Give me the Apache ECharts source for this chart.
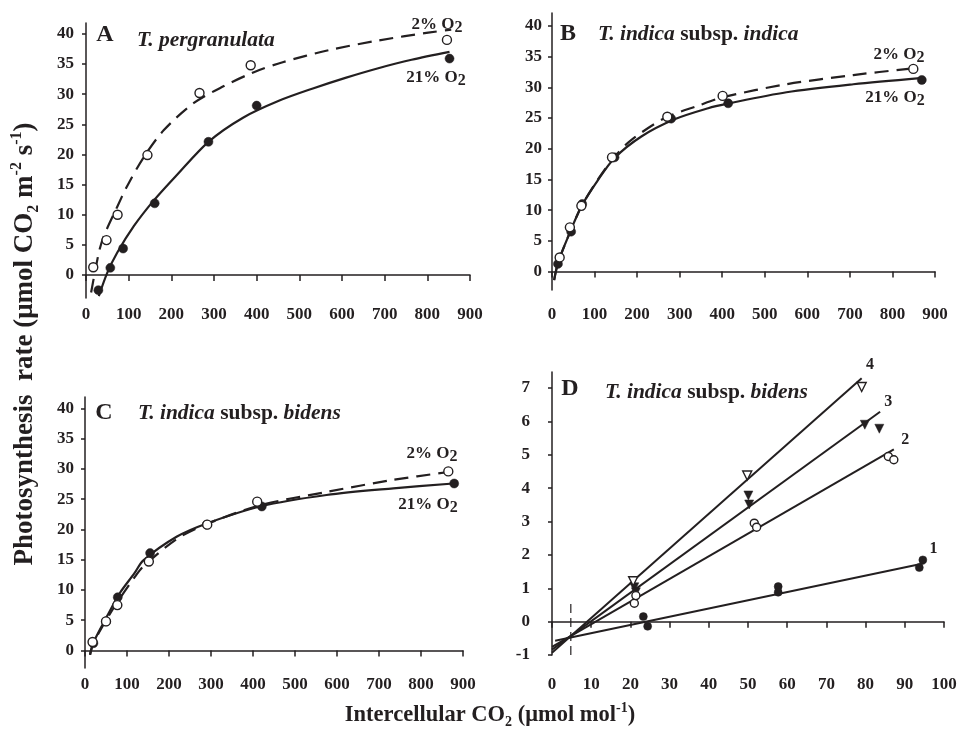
<!DOCTYPE html>
<html><head><meta charset="utf-8">
<script src="https://cdn.jsdelivr.net/npm/echarts@6/dist/echarts.min.js"></script>
<style>html,body{margin:0;padding:0;background:#fff}#c{width:960px;height:729px}</style>
</head><body><div id="c"></div>
<script>
// ---------- Panel A: T. pergranulata ----------
const A_pts21_x = [29, 57, 87, 161, 287, 400, 852];
const A_pts21_y = [-2.5, 1.2, 4.4, 11.9, 22.1, 28.1, 35.9];
const A_pts2_x  = [17, 48, 74, 144, 266, 386, 846];
const A_pts2_y  = [1.3, 5.8, 10.0, 19.9, 30.2, 34.8, 39.0];
const A_fit21_x = [30, 50, 73, 112, 158, 213, 287, 368, 452, 530, 608, 685, 763, 852];
const A_fit21_y = [-3.5, 0.4, 3.7, 8.1, 12.3, 16.6, 22.1, 26.1, 28.9, 30.9, 32.7, 34.3, 35.7, 37.0];
const A_fit2_x  = [12, 30, 42, 73, 96, 135, 182, 252, 322, 392, 461, 569, 685, 802, 856];
const A_fit2_y  = [-2.9, 3.7, 6.5, 11.3, 14.7, 19.5, 24.0, 28.5, 31.3, 33.6, 35.3, 37.3, 38.9, 40.2, 40.7];
// ---------- Panel B: T. indica subsp. indica ----------
const B_pts21_x = [14, 45, 71, 147, 280, 414, 869];
const B_pts21_y = [1.25, 6.5, 11.0, 18.6, 24.9, 27.4, 31.2];
const B_pts2_x  = [18, 42, 69, 141, 271, 401, 849];
const B_pts2_y  = [2.3, 7.2, 10.7, 18.6, 25.2, 28.6, 33.0];
const B_fit21_x = [5, 14, 38, 69, 108, 147, 210, 288, 367, 410, 551, 708, 865];
const B_fit21_y = [-1.4, 1.4, 5.7, 10.6, 14.9, 18.5, 22.0, 24.8, 26.6, 27.3, 29.2, 30.5, 31.5];
const B_fit2_x  = [5, 14, 38, 69, 108, 147, 186, 265, 343, 403, 551, 708, 849];
const B_fit2_y  = [-1.4, 1.4, 5.7, 10.6, 15.0, 18.7, 21.4, 25.0, 27.0, 28.4, 30.5, 32.0, 33.1];
// ---------- Panel C: T. indica subsp. bidens ----------
const C_pts21_x = [20, 50, 78, 155, 290, 421, 879];
const C_pts21_y = [1.2, 4.8, 8.8, 16.1, 20.8, 23.8, 27.6];
const C_pts2_x  = [18, 50, 77, 152, 291, 410, 865];
const C_pts2_y  = [1.4, 4.8, 7.5, 14.7, 20.8, 24.6, 29.6];
const C_fit21_x = [12, 20, 52, 83, 117, 139, 218, 290, 417, 575, 734, 877];
const C_fit21_y = [-0.7, 1.3, 5.6, 9.5, 12.7, 14.9, 18.8, 21.0, 23.8, 25.7, 26.8, 27.6];
const C_fit2_x  = [12, 20, 52, 83, 117, 139, 218, 290, 417, 575, 734, 865];
const C_fit2_y  = [-0.7, 1.2, 5.2, 8.6, 12.0, 13.9, 18.4, 20.9, 24.0, 26.2, 28.2, 29.5];
// ---------- Panel D: T. indica subsp. bidens (initial slopes) ----------
const D_s1_x = [23.3, 24.4, 57.7, 57.7, 94.6, 93.7];
const D_s1_y = [0.15, -0.14, 1.05, 0.88, 1.85, 1.62];
const D_s2_x = [21.0, 21.4, 51.6, 52.2, 85.8, 87.2];
const D_s2_y = [0.55, 0.78, 2.95, 2.83, 4.95, 4.85];
const D_s3_x = [21.0, 21.4, 50.1, 50.3, 79.8, 83.5];
const D_s3_y = [1.03, 0.88, 3.78, 3.51, 5.90, 5.78];
const D_s4_x = [20.7, 49.8, 79.0];
const D_s4_y = [1.21, 4.38, 7.03];
const D_l1_x = [0.8, 95];   const D_l1_y = [-0.57, 1.75];
const D_l2_x = [0, 87.2];   const D_l2_y = [-0.76, 5.16];
const D_l3_x = [0, 83.7];   const D_l3_y = [-0.84, 6.29];
const D_l4_x = [0, 79.0];   const D_l4_y = [-0.93, 7.29];
const D_vline_x = [4.8, 4.8]; const D_vline_y = [-1, 0.65];
const D_lab_txt = ['1', '2', '3', '4'];
const D_lab_x = [97.3, 90.1, 85.8, 81.1];
const D_lab_y = [2.18, 5.46, 6.58, 7.68];
// ---------- tick labels ----------
const ticksCurveX = [0, 100, 200, 300, 400, 500, 600, 700, 800, 900];
const ticksCurveY = [0, 5, 10, 15, 20, 25, 30, 35, 40];
const ticksDX = [0, 10, 20, 30, 40, 50, 60, 70, 80, 90, 100];
const ticksDY = [-1, 0, 1, 2, 3, 4, 5, 6, 7];

const FONT = '"Liberation Serif", "Times New Roman", serif';
const INK = '#231f20';
const zip = (xs, ys) => xs.map((x, i) => [x, ys[i]]);

const chart = echarts.init(document.getElementById('c'), null, {renderer: 'canvas'});

const grids = [
  {left: 86, top: 23, width: 384, height: 275},
  {left: 552, top: 13, width: 383, height: 277},
  {left: 85, top: 397, width: 378, height: 271},
  {left: 552, top: 372, width: 392, height: 283}
];
const lbl = {color: INK, fontFamily: FONT, fontWeight: 'bold', fontSize: 17};
function xAx(gi, ticks, margin) {
  return {type: 'value', gridIndex: gi, min: ticks[0], max: ticks[ticks.length - 1],
    axisLine: {onZero: true, lineStyle: {color: INK, width: 1.5}},
    axisTick: {length: 6, customValues: ticks, lineStyle: {color: INK, width: 1.5}},
    axisLabel: Object.assign({margin, customValues: ticks}, lbl),
    splitLine: {show: false}};
}
function yAx(gi, min, max, ticks, margin) {
  return {type: 'value', gridIndex: gi, min, max,
    axisLine: {show: true, onZero: false, lineStyle: {color: INK, width: 1.5}},
    axisTick: {show: true, length: 4, customValues: ticks, lineStyle: {color: INK, width: 1.5}},
    axisLabel: Object.assign({margin, customValues: ticks}, lbl),
    splitLine: {show: false}};
}
function curve(gi, xs, ys, dashed) {
  return {type: 'line', xAxisIndex: gi, yAxisIndex: gi, data: zip(xs, ys), showSymbol: false,
    smooth: 0.3, silent: true, z: 2,
    lineStyle: {color: INK, width: 2.2, type: dashed ? [14, 8] : 'solid'}};
}
function straight(gi, xs, ys, dashed, w) {
  return {type: 'line', xAxisIndex: gi, yAxisIndex: gi, data: zip(xs, ys), showSymbol: false,
    silent: true, z: 2, lineStyle: {color: INK, width: w || 2, type: dashed ? [9, 5] : 'solid'}};
}
function pts(gi, xs, ys, open, symbol, size) {
  return {type: 'scatter', xAxisIndex: gi, yAxisIndex: gi, data: zip(xs, ys),
    symbol: symbol || 'circle', symbolSize: size || 9, symbolRotate: symbol === 'triangle' ? 180 : 0,
    silent: true, z: open ? 4 : 3,
    itemStyle: open ? {color: '#fff', borderColor: INK, borderWidth: 1.4, opacity: 1}
                    : {color: INK, borderColor: INK, borderWidth: 0.5, opacity: 1}};
}

const base = {fontFamily: FONT, fontWeight: 'bold', fill: INK};
function o2(x, y, pct) {
  return {type: 'text', x, y, z: 10, style: Object.assign({
    text: '{t|' + pct + ' O}{s|2}', textAlign: 'center', textVerticalAlign: 'middle',
    rich: {t: Object.assign({fontSize: 17, lineHeight: 22}, base),
           s: Object.assign({fontSize: 16, lineHeight: 18, verticalAlign: 'bottom'}, base)}}, base)};
}
function letter(x, y, ch) {
  return {type: 'text', x, y, z: 10, style: Object.assign({text: ch, fontSize: 24, textAlign: 'center', textVerticalAlign: 'middle'}, base)};
}
function species(x, y, parts) {
  return {type: 'text', x, y, z: 10, style: Object.assign({
    text: parts, textAlign: 'left', textVerticalAlign: 'middle', fontSize: 21.5,
    rich: {i: Object.assign({fontSize: 21.5, fontStyle: 'italic'}, base),
           b: Object.assign({fontSize: 21.5}, base)}}, base)};
}
const titleRich = {t: Object.assign({fontSize: 22.5, lineHeight: 28}, base),
                   s: Object.assign({fontSize: 14, lineHeight: 16, verticalAlign: 'bottom'}, base),
                   p: Object.assign({fontSize: 14, lineHeight: 14, verticalAlign: 'top'}, base)};
const yTitleRich = {t: Object.assign({fontSize: 27, lineHeight: 33}, base),
                   s: Object.assign({fontSize: 16, lineHeight: 18, verticalAlign: 'bottom'}, base),
                   p: Object.assign({fontSize: 16, lineHeight: 16, verticalAlign: 'top'}, base)};

const option = {
  animation: false,
  backgroundColor: '#fff',
  grid: grids,
  xAxis: [xAx(0, ticksCurveX, 8), xAx(1, ticksCurveX, 16), xAx(2, ticksCurveX, 8), xAx(3, ticksDX, 21)],
  yAxis: [yAx(0, -3.8, 41.8, ticksCurveY, 12), yAx(1, -3.0, 42.1, ticksCurveY, 10),
          yAx(2, -2.9, 41.9, ticksCurveY, 11), yAx(3, -1, 7.48, ticksDY, 22)],
  series: [
    curve(0, A_fit21_x, A_fit21_y, false), curve(0, A_fit2_x, A_fit2_y, true),
    pts(0, A_pts21_x, A_pts21_y, false), pts(0, A_pts2_x, A_pts2_y, true),
    curve(1, B_fit21_x, B_fit21_y, false), curve(1, B_fit2_x, B_fit2_y, true),
    pts(1, B_pts21_x, B_pts21_y, false), pts(1, B_pts2_x, B_pts2_y, true),
    curve(2, C_fit21_x, C_fit21_y, false), curve(2, C_fit2_x, C_fit2_y, true),
    pts(2, C_pts21_x, C_pts21_y, false), pts(2, C_pts2_x, C_pts2_y, true),
    straight(3, D_l1_x, D_l1_y), straight(3, D_l2_x, D_l2_y), straight(3, D_l3_x, D_l3_y), straight(3, D_l4_x, D_l4_y),
    straight(3, D_vline_x, D_vline_y, true, 1.2),
    pts(3, D_s1_x, D_s1_y, false, 'circle', 8), pts(3, D_s2_x, D_s2_y, true, 'circle', 8),
    pts(3, D_s3_x, D_s3_y, false, 'triangle', 9), pts(3, D_s4_x, D_s4_y, true, 'triangle', 9),
    {type: 'scatter', xAxisIndex: 3, yAxisIndex: 3, symbolSize: 0, silent: true, clip: false, z: 6,
     itemStyle: {color: 'rgba(0,0,0,0)', opacity: 1},
     data: D_lab_txt.map((t, i) => ({name: t, value: [D_lab_x[i], D_lab_y[i]]})),
     label: {show: true, position: 'inside', formatter: '{b}', color: INK, opacity: 1,
             fontFamily: FONT, fontWeight: 'bold', fontSize: 16}}
  ],
  graphic: [
    letter(105, 35, 'A'), species(137, 40, '{i|T. pergranulata}'),
    letter(568, 34, 'B'), species(598, 34, '{i|T. indica} {b|subsp.} {i|indica}'),
    letter(104, 413, 'C'), species(138, 413, '{i|T. indica} {b|subsp.} {i|bidens}'),
    letter(570, 389, 'D'), species(605, 392, '{i|T. indica} {b|subsp.} {i|bidens}'),
    o2(437, 25, '2%'), o2(436, 78, '21%'),
    o2(899, 55, '2%'), o2(895, 98, '21%'),
    o2(432, 454, '2%'), o2(428, 505, '21%'),
    {type: 'text', x: 25, y: 344, rotation: Math.PI / 2, z: 10, style: Object.assign({
      text: '{t|Photosynthesis  rate (μmol CO}{s|2}{t| m}{p|-2}{t| s}{p|-1}{t|)}',
      textAlign: 'center', textVerticalAlign: 'middle', rich: yTitleRich}, base)},
    {type: 'text', x: 490, y: 715, z: 10, style: Object.assign({
      text: '{t|Intercellular CO}{s|2}{t| (μmol mol}{p|-1}{t|)}',
      textAlign: 'center', textVerticalAlign: 'middle', rich: titleRich}, base)}
  ]
};
chart.setOption(option);
</script></body></html>
